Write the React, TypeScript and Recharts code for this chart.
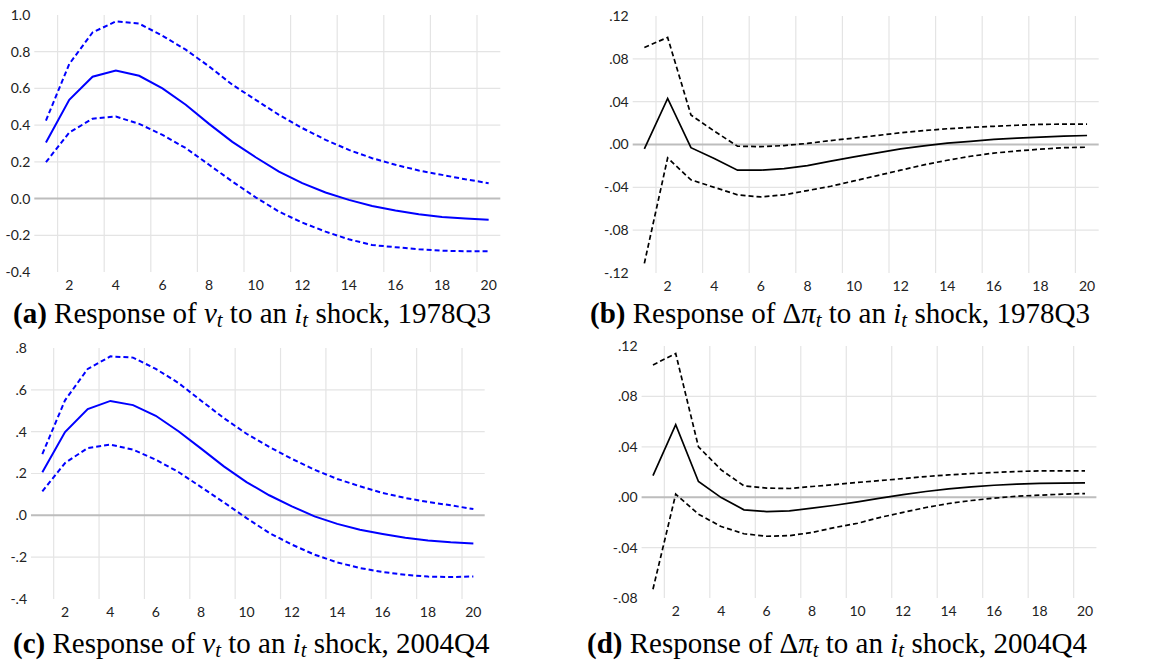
import { Line, LineChart, ReferenceLine, XAxis, YAxis } from "recharts";

// horizon (quarters) and axis marks shared by all four panels
const periods = [1, 2, 3, 4, 5, 6, 7, 8, 9, 10, 11, 12, 13, 14, 15, 16, 17, 18, 19, 20];
const xTicks = [2, 4, 6, 8, 10, 12, 14, 16, 18, 20];
const gridX = [1.5, 3.5, 5.5, 7.5, 9.5, 11.5, 13.5, 15.5, 17.5, 19.5];

// (a) response of v to i shock, 1978Q3
const vMid78 = [0.305, 0.538, 0.664, 0.698, 0.669, 0.6, 0.511, 0.407, 0.309, 0.225, 0.147, 0.084, 0.033, -0.007, -0.04, -0.065, -0.085, -0.1, -0.109, -0.116];
const vUp78 = [0.425, 0.733, 0.905, 0.965, 0.953, 0.887, 0.811, 0.72, 0.62, 0.538, 0.456, 0.384, 0.32, 0.265, 0.22, 0.184, 0.153, 0.129, 0.105, 0.084];
const vLo78 = [0.198, 0.36, 0.435, 0.447, 0.407, 0.347, 0.275, 0.184, 0.093, 0.007, -0.071, -0.131, -0.18, -0.222, -0.253, -0.265, -0.276, -0.284, -0.287, -0.287];

// (b) response of d-pi to i shock, 1978Q3
const pMid78 = [-0.004, 0.043, -0.003, -0.013, -0.024, -0.024, -0.0225, -0.0197, -0.0156, -0.0116, -0.0078, -0.0041, -0.0013, 0.0013, 0.003, 0.0047, 0.006, 0.0069, 0.0078, 0.0084];
const pUp78 = [0.0906, 0.1, 0.0275, 0.0125, -0.0016, -0.002, -0.001, 0.001, 0.0037, 0.006, 0.0084, 0.011, 0.013, 0.0147, 0.016, 0.017, 0.018, 0.0188, 0.019, 0.019];
const pLo78 = [-0.111, -0.0125, -0.033, -0.04, -0.047, -0.049, -0.047, -0.043, -0.039, -0.034, -0.029, -0.024, -0.019, -0.0147, -0.011, -0.008, -0.006, -0.0044, -0.003, -0.0025];

// (c) response of v to i shock, 2004Q4
const vMid04 = [0.206, 0.398, 0.508, 0.547, 0.527, 0.476, 0.402, 0.319, 0.234, 0.159, 0.096, 0.043, -0.005, -0.041, -0.069, -0.089, -0.107, -0.12, -0.129, -0.135];
const vUp04 = [0.293, 0.55, 0.7, 0.76, 0.754, 0.7, 0.633, 0.548, 0.465, 0.39, 0.327, 0.27, 0.218, 0.174, 0.139, 0.107, 0.083, 0.064, 0.048, 0.03];
const vLo04 = [0.115, 0.25, 0.322, 0.338, 0.314, 0.266, 0.207, 0.135, 0.062, -0.013, -0.084, -0.14, -0.188, -0.225, -0.252, -0.271, -0.284, -0.293, -0.295, -0.292];

// (d) response of d-pi to i shock, 2004Q4
const pMid04 = [0.0172, 0.0575, 0.0125, -0.0003, -0.01, -0.0114, -0.0109, -0.0087, -0.0064, -0.0037, -0.0008, 0.002, 0.0045, 0.0066, 0.0082, 0.0095, 0.0103, 0.0109, 0.0111, 0.0114];
const pUp04 = [0.105, 0.114, 0.04, 0.0217, 0.009, 0.0072, 0.0069, 0.0085, 0.01, 0.0117, 0.0132, 0.0148, 0.0164, 0.0177, 0.0188, 0.0196, 0.0204, 0.0209, 0.0209, 0.0209];
const pLo04 = [-0.073, 0.0024, -0.0135, -0.0233, -0.029, -0.031, -0.0305, -0.028, -0.024, -0.0207, -0.016, -0.012, -0.0082, -0.005, -0.0026, -0.0008, 0.0008, 0.0016, 0.0024, 0.0029];

const yTicksV78 = [-0.4, -0.2, 0, 0.2, 0.4, 0.6, 0.8, 1.0];
const yTicksV04 = [-0.4, -0.2, 0, 0.2, 0.4, 0.6, 0.8];
const yTicksP78 = [-0.12, -0.08, -0.04, 0, 0.04, 0.08, 0.12];
const yTicksP04 = [-0.08, -0.04, 0, 0.04, 0.08, 0.12];

const buildRows = (mid: number[], up: number[], lo: number[]) =>
  periods.map((p, i) => ({ p, mid: mid[i], up: up[i], lo: lo[i] }));

const fmtOne = (v: number) => v.toFixed(1);
const fmtBare = (digits: number) => (v: number) => v.toFixed(digits).replace("0.", ".");

const tickStyle = { fill: "#222", fontSize: 14, fontFamily: "Lato" };

interface PanelProps {
  rows: { p: number; mid: number; up: number; lo: number }[];
  color: string;
  yTicks: number[];
  fmt: (v: number) => string;
  left: number;
  top: number;
  width: number;
  height: number;
  yWidth: number;
  marginTop: number;
  marginRight: number;
  lineWidth: number;
}

function IrfPanel(props: PanelProps) {
  const { rows, color, yTicks, fmt, left, top, width, height, yWidth, marginTop, marginRight, lineWidth } = props;
  const inner = yTicks.slice(1, -1).filter((t) => t !== 0);
  return (
    <div style={{ position: "absolute", left, top }}>
      <LineChart width={width} height={height} data={rows} margin={{ top: marginTop, right: marginRight, bottom: 0, left: 0 }}>
        {gridX.map((x) => (
          <ReferenceLine key={`gx${x}`} x={x} stroke="#e4e4e4" strokeWidth={1.2} />
        ))}
        {inner.map((y) => (
          <ReferenceLine key={`gy${y}`} y={y} stroke="#e4e4e4" strokeWidth={1.2} />
        ))}
        <ReferenceLine y={0} stroke="#bdbdbd" strokeWidth={2} />
        <XAxis
          dataKey="p"
          type="number"
          domain={[0.5, 20.5]}
          ticks={xTicks}
          interval={0}
          axisLine={false}
          tickLine={false}
          height={28}
          tick={tickStyle}
        />
        <YAxis
          type="number"
          domain={[yTicks[0], yTicks[yTicks.length - 1]]}
          ticks={yTicks}
          interval={0}
          tickFormatter={fmt}
          width={yWidth}
          axisLine={false}
          tickLine={false}
          tickSize={2}
          tickMargin={2}
          tick={tickStyle}
        />
        <Line type="linear" dataKey="up" stroke={color} strokeWidth={lineWidth} strokeDasharray="5 3" dot={false} isAnimationActive={false} />
        <Line type="linear" dataKey="lo" stroke={color} strokeWidth={lineWidth} strokeDasharray="5 3" dot={false} isAnimationActive={false} />
        <Line type="linear" dataKey="mid" stroke={color} strokeWidth={lineWidth} dot={false} isAnimationActive={false} />
      </LineChart>
    </div>
  );
}

const mathStyle = { fontStyle: "italic" as const };
const subStyle = { fontStyle: "italic" as const, fontSize: "0.72em", position: "relative" as const, top: "0.2em" };

function Caption({ tag, variable, date, left, top }: { tag: string; variable: "v" | "pi"; date: string; left: number; top: number }) {
  return (
    <div
      style={{
        position: "absolute",
        left,
        top,
        fontFamily: "'Liberation Serif', 'Times New Roman', serif",
        fontSize: 29,
        lineHeight: "29px",
        whiteSpace: "nowrap",
        color: "#000",
      }}
    >
      <b>({tag})</b> Response of{" "}
      {variable === "v" ? (
        <span style={mathStyle}>v</span>
      ) : (
        <>
          Δ<span style={mathStyle}>π</span>
        </>
      )}
      <span style={subStyle}>t</span> to an <span style={mathStyle}>i</span>
      <span style={subStyle}>t</span> shock, {date}
    </div>
  );
}

export default function App() {
  return (
    <div style={{ position: "relative", width: 1159, height: 661, background: "#fff", overflow: "hidden" }}>
      <style>{"body{margin:0}"}</style>
      <IrfPanel rows={buildRows(vMid78, vUp78, vLo78)} color="#0000ff" yTicks={yTicksV78} fmt={fmtOne}
        left={0} top={0} width={510} height={300} yWidth={34.3} marginTop={15} marginRight={9.7} lineWidth={2} />
      <IrfPanel rows={buildRows(pMid78, pUp78, pLo78)} color="#000000" yTicks={yTicksP78} fmt={fmtBare(2)}
        left={590} top={0} width={520} height={301} yWidth={42.7} marginTop={16} marginRight={11.3} lineWidth={1.7} />
      <IrfPanel rows={buildRows(vMid04, vUp04, vLo04)} color="#0000ff" yTicks={yTicksV04} fmt={fmtBare(1)}
        left={0} top={330} width={495} height={297} yWidth={31} marginTop={18} marginRight={10.3} lineWidth={2} />
      <IrfPanel rows={buildRows(pMid04, pUp04, pLo04)} color="#000000" yTicks={yTicksP04} fmt={fmtBare(2)}
        left={590} top={330} width={515} height={296} yWidth={51.6} marginTop={16} marginRight={8.6} lineWidth={1.7} />
      <Caption tag="a" variable="v" date="1978Q3" left={13} top={299} />
      <Caption tag="b" variable="pi" date="1978Q3" left={590} top={299} />
      <Caption tag="c" variable="v" date="2004Q4" left={13} top={629} />
      <Caption tag="d" variable="pi" date="2004Q4" left={587} top={629} />
    </div>
  );
}
